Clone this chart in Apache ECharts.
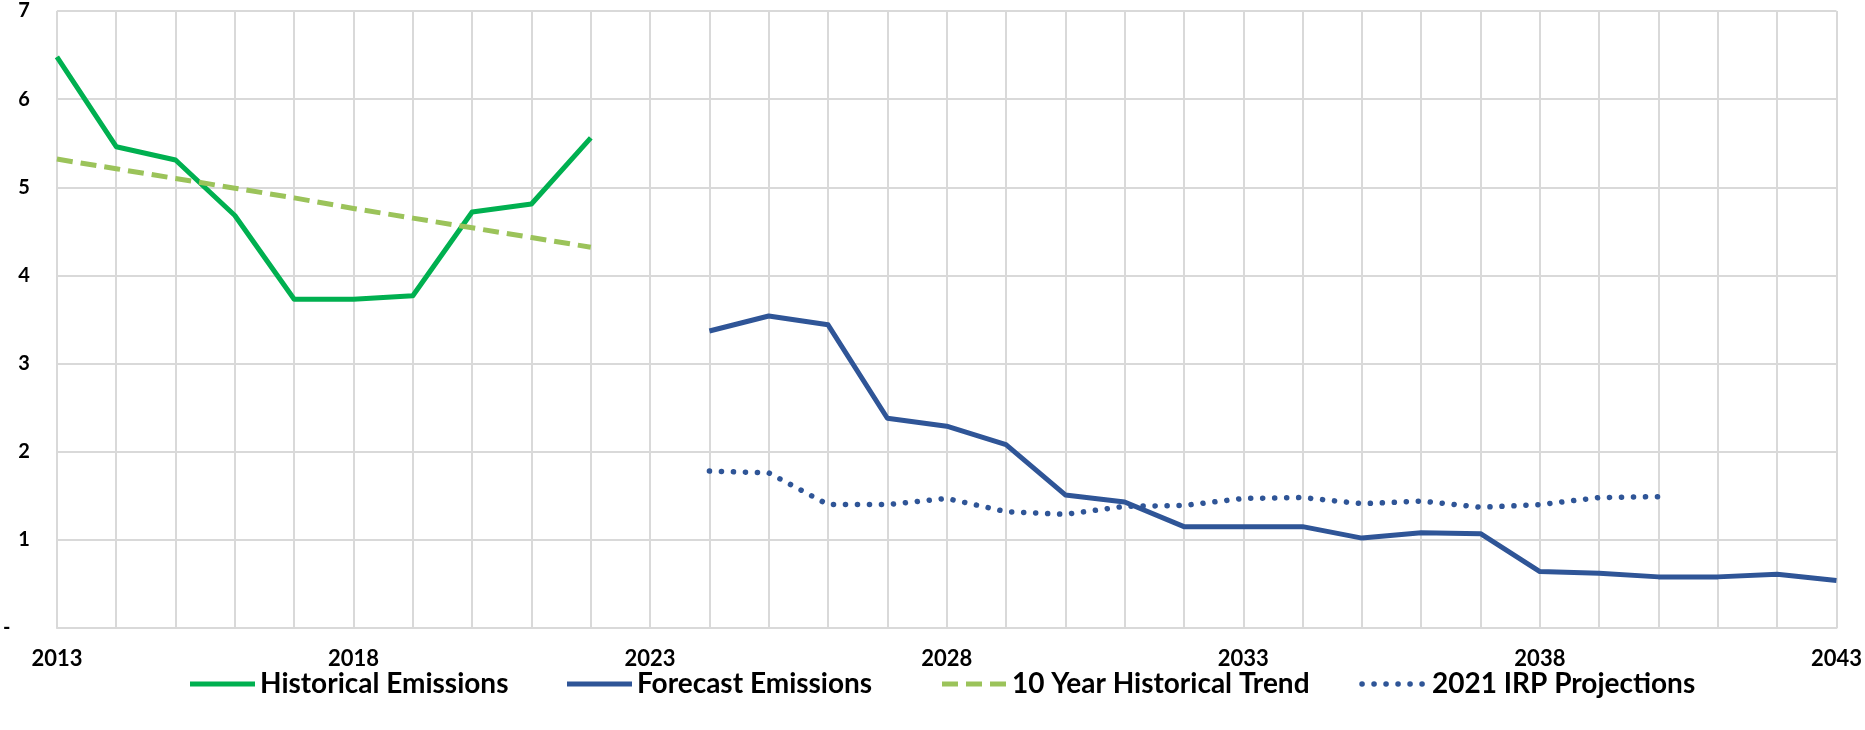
<!DOCTYPE html>
<html>
<head>
<meta charset="utf-8">
<title>Emissions</title>
<script src="https://cdn.jsdelivr.net/npm/echarts@6/dist/echarts.min.js"></script>
<style>
  html, body { margin: 0; padding: 0; background: #ffffff; }
  #chart { width: 1865px; height: 730px; }
</style>
</head>
<body>
<div id="chart"></div>
<script>
// Category axis: one entry per year
const years = ['2013','2014','2015','2016','2017','2018','2019','2020','2021','2022',
  '2023','2024','2025','2026','2027','2028','2029','2030','2031','2032','2033',
  '2034','2035','2036','2037','2038','2039','2040','2041','2042','2043'];

// Historical emissions, 2013–2022
const historicalEmissions = [6.48, 5.46, 5.31, 4.68, 3.73, 3.73, 3.77, 4.72, 4.81, 5.56];
const historicalStart = '2013';

// 10-year historical trend line, 2013–2022
const historicalTrend = [5.32, 5.21, 5.10, 4.99, 4.88, 4.76, 4.65, 4.54, 4.43, 4.32];
const trendStart = '2013';

// Forecast emissions, 2024–2043
const forecastEmissions = [3.37, 3.54, 3.44, 2.38, 2.29, 2.08, 1.51, 1.43, 1.15, 1.15,
  1.15, 1.02, 1.08, 1.07, 0.64, 0.62, 0.58, 0.58, 0.61, 0.54];
const forecastStart = '2024';

// 2021 IRP projections, 2024–2040
const irpProjections = [1.78, 1.76, 1.40, 1.40, 1.47, 1.32, 1.29, 1.38, 1.39, 1.47,
  1.48, 1.41, 1.44, 1.37, 1.40, 1.48, 1.49];
const irpStart = '2024';

// Y axis range
const yMin = 0, yMax = 7, yStep = 1;

const seriesNames = ['Historical Emissions', 'Forecast Emissions', '10 Year Historical Trend', '2021 IRP Projections'];

// Place a partial series onto the full year axis
function alignToYears(values, startYear) {
  const offset = years.indexOf(startYear);
  return years.map((_, i) => {
    const k = i - offset;
    return (k >= 0 && k < values.length) ? values[k] : null;
  });
}

const FONT = 'Lato, "Liberation Sans", sans-serif';
const GRID_COLOR = '#d9d9d9';
const LINE_W = 5;

// Line styles shared by each series and its legend swatch
const styles = [
  { color: '#00b050', width: LINE_W, dash: null, cap: 'butt' },
  { color: '#2f5597', width: LINE_W, dash: null, cap: 'butt' },
  { color: '#9bc35a', width: LINE_W, dash: [16, 8], cap: 'butt' },
  { color: '#2f5597', width: 5.5, dash: [0.1, 11.9], cap: 'round' }
];

// Legend row: swatch 65px wide, text 5px after it
const legendLeft = [190, 567, 942, 1362];
const legendMidY = 684;

const legendGraphics = [];
seriesNames.forEach((name, i) => {
  const s = styles[i];
  const x0 = legendLeft[i];
  legendGraphics.push({
    type: 'line',
    shape: { x1: x0, y1: legendMidY, x2: x0 + 65, y2: legendMidY },
    style: { stroke: s.color, lineWidth: s.width, lineDash: s.dash, lineCap: s.cap },
    silent: true
  });
  legendGraphics.push({
    type: 'text',
    x: x0 + 70,
    y: legendMidY,
    style: {
      text: name,
      fill: '#000000',
      font: 'bold 28px ' + FONT,
      verticalAlign: 'middle',
      align: 'left'
    },
    silent: true
  });
});

const chart = echarts.init(document.getElementById('chart'), null, { renderer: 'canvas' });

chart.setOption({
  animation: false,
  backgroundColor: '#ffffff',
  grid: { left: 42, right: 25, top: 11, bottom: 102, containLabel: false },
  graphic: { elements: legendGraphics },
  xAxis: {
    type: 'category',
    data: years,
    boundaryGap: false,
    axisLine: { show: true, lineStyle: { color: GRID_COLOR, width: 2 } },
    axisTick: { show: false },
    axisLabel: {
      interval: 4,
      margin: 20,
      fontFamily: FONT, fontWeight: 'bold', fontSize: 22, color: '#000000'
    },
    splitLine: { show: true, interval: 0, lineStyle: { color: GRID_COLOR, width: 2 } }
  },
  yAxis: {
    type: 'value',
    min: yMin, max: yMax, interval: yStep,
    axisLine: { show: false },
    axisTick: { show: false },
    axisLabel: {
      margin: 27,
      fontFamily: FONT, fontWeight: 'bold', fontSize: 20, color: '#000000',
      // zero is shown as a dash, set a little further left
      formatter: v => (v === 0 ? '-    ' : String(v))
    },
    splitLine: { show: true, lineStyle: { color: GRID_COLOR, width: 2 } }
  },
  series: [
    [historicalEmissions, historicalStart],
    [forecastEmissions, forecastStart],
    [historicalTrend, trendStart],
    [irpProjections, irpStart]
  ].map(([values, start], i) => ({
    name: seriesNames[i],
    type: 'line',
    data: alignToYears(values, start),
    symbol: 'none',
    lineStyle: {
      color: styles[i].color,
      width: styles[i].width,
      type: styles[i].dash || 'solid',
      cap: styles[i].cap,
      join: 'round'
    },
    itemStyle: { color: styles[i].color },
    z: i < 2 ? 2 : 3
  }))
});
</script>
</body>
</html>
